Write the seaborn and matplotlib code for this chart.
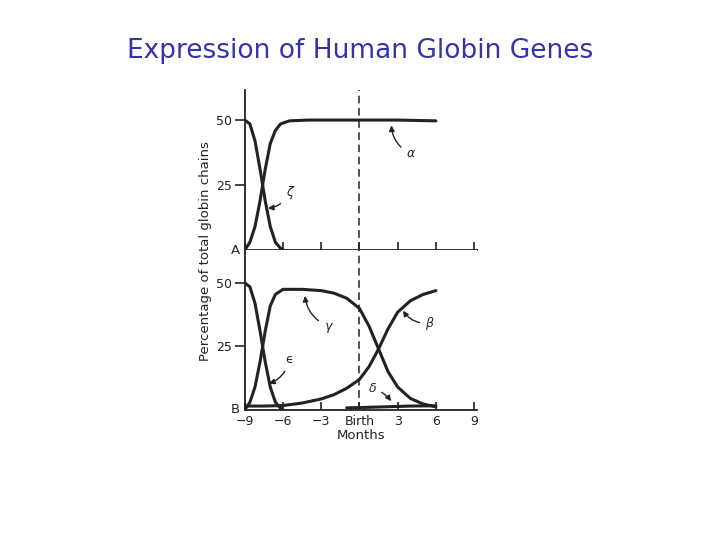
import numpy as np
import matplotlib
matplotlib.use("Agg")
import matplotlib.pyplot as plt
import seaborn as sns

sns.set_theme(style="white")
plt.rcParams['font.family'] = ['DejaVu Sans']

# Panel A
alpha_x = [-9, -8.6, -8.2, -7.8, -7.4, -7, -6.6, -6.2, -5.5, -4, -2, 0, 3, 6]
alpha_y = [0, 3, 9, 19, 31, 41, 46, 48.5, 49.7, 50, 50, 50, 50, 49.7]
zeta_x = [-9, -8.6, -8.2, -7.8, -7.4, -7, -6.6, -6.2, -6]
zeta_y = [50, 48.5, 42, 31, 19, 9, 3, 0.7, 0]

# Panel B
eps_x = [-9, -8.6, -8.2, -7.8, -7.4, -7, -6.6, -6.2, -6]
eps_y = [50, 48.5, 42, 31, 19, 9, 3, 0.7, 0]
gamma_x = [-9, -8.6, -8.2, -7.8, -7.4, -7, -6.6, -6, -4.5, -3, -2, -1, 0, 0.75, 1.5, 2.25, 3, 4, 5, 6]
gamma_y = [0, 3, 9, 19, 31, 41, 45.5, 47.5, 47.5, 47, 46, 44, 40, 33, 24, 15, 9, 4.5, 2.3, 1.2]
beta_x = [-9, -7.5, -6, -4.5, -3, -2, -1, 0, 0.75, 1.5, 2.25, 3, 4, 5, 6]
beta_y = [1.5, 1.5, 1.7, 2.7, 4.3, 6, 8.5, 12, 17, 24, 32, 38.5, 43, 45.5, 47]
delta_x = [-1, 0, 2, 4, 6]
delta_y = [0.8, 0.9, 1.2, 1.5, 1.6]

xticks = [-9, -6, -3, 0, 3, 6, 9]
xticklabels = ["\u22129", "\u22126", "\u22123", "Birth", "3", "6", "9"]

fig = plt.figure(figsize=(7.2, 5.4), dpi=100)
fig.patch.set_facecolor("white")
ax_a = fig.add_axes([0.340, 0.537, 0.322, 0.296])
ax_b = fig.add_axes([0.340, 0.241, 0.322, 0.296])

lw = 2.2
sns.lineplot(x=alpha_x, y=alpha_y, ax=ax_a, color="#222222", lw=lw)
sns.lineplot(x=zeta_x, y=zeta_y, ax=ax_a, color="#222222", lw=lw)
sns.lineplot(x=eps_x, y=eps_y, ax=ax_b, color="#222222", lw=lw)
sns.lineplot(x=gamma_x, y=gamma_y, ax=ax_b, color="#222222", lw=lw)
sns.lineplot(x=beta_x, y=beta_y, ax=ax_b, color="#222222", lw=lw)
sns.lineplot(x=delta_x, y=delta_y, ax=ax_b, color="#222222", lw=lw)

for ax, top in [(ax_a, 61.5), (ax_b, 63)]:
    ax.set_xlim(-9, 9.2)
    ax.set_ylim(0, top)
    ax.set_facecolor("white")
    for s in ["top", "right"]:
        ax.spines[s].set_visible(False)
    for s in ["left", "bottom"]:
        ax.spines[s].set_color("#222222")
        ax.spines[s].set_linewidth(1.3)
    ax.set_yticks([25, 50])
    ax.set_yticklabels(["25", "50"], fontsize=9, color="#222222")
    ax.set_xticks(xticks)
    ax.tick_params(axis="x", bottom=True, direction="in", length=6, width=1.2, color="#222222")
    ax.tick_params(axis="y", left=True, direction="out", length=7, width=1.2, color="#222222", pad=2)
    ax.axvline(0, color="#222222", lw=1.1, ls=(0, (5, 3)))
    ax.grid(False)

ax_a.set_xticklabels([])
ax_b.set_xticklabels(xticklabels, fontsize=9, color="#222222")
ax_b.set_xlabel("Months", fontsize=9.5, color="#222222", labelpad=1)
ax_a.text(-9.4, 0, "A", ha="right", va="center", fontsize=9.5)
ax_b.text(-9.4, 0, "B", ha="right", va="center", fontsize=9.5)
fig.text(0.285, 0.535, "Percentage of total globin chains", rotation=90,
         ha="center", va="center", fontsize=9.5, color="#222222")

arrow = dict(arrowstyle="-|>", color="#222222", lw=1, connectionstyle="arc3,rad=-0.3", mutation_scale=8)
ax_a.annotate("\u03b1", xy=(2.5, 49), xytext=(4, 37), fontsize=9, style="italic", arrowprops=arrow, ha="center", va="center")
ax_a.annotate("\u03b6", xy=(-7.4, 16), xytext=(-5.5, 22), fontsize=9, style="italic", arrowprops=arrow, ha="center", va="center")
ax_b.annotate("\u03b3", xy=(-4.3, 46), xytext=(-2.5, 33), fontsize=9, style="italic", arrowprops=arrow, ha="center", va="center")
ax_b.annotate("\u03b2", xy=(3.3, 40), xytext=(5.5, 34), fontsize=9, style="italic", arrowprops=arrow, ha="center", va="center")
ax_b.annotate("\u03f5", xy=(-7.3, 10), xytext=(-5.5, 20), fontsize=9, arrowprops=arrow, ha="center", va="center")
ax_b.annotate("\u03b4", xy=(2.6, 2.5), xytext=(1, 8.5), fontsize=9, style="italic",
              arrowprops=dict(arrowstyle="-|>", color="#222222", lw=1, connectionstyle="arc3,rad=-0.2", mutation_scale=8),
              ha="center", va="center")

fig.text(0.5, 0.905, "Expression of Human Globin Genes", ha="center", va="center",
         fontsize=19, color="#3333aa")

fig.savefig("out.png", dpi=100)
